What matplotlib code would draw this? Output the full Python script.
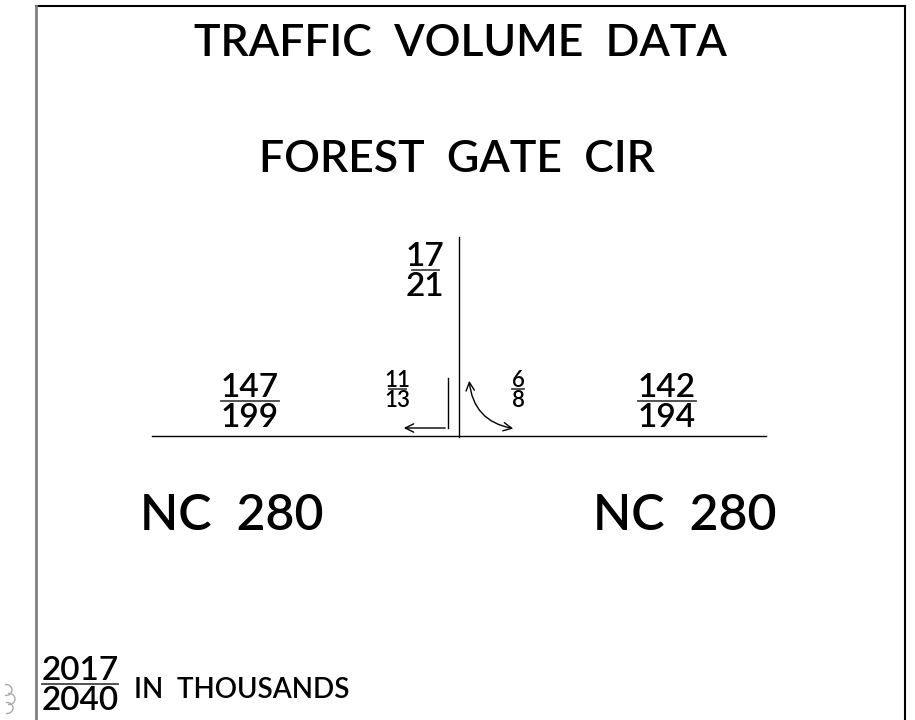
import matplotlib.pyplot as plt
from matplotlib.patches import FancyArrowPatch, Arc

plt.rcParams['font.family'] = ['Lato', 'DejaVu Sans']
plt.rcParams['font.weight'] = 'semibold'

# volumes in thousands: (2017, 2040)
north_leg = (17, 21)
west_leg = (147, 199)
east_leg = (142, 194)
left_turn = (11, 13)
right_turn = (6, 8)
legend_years = ("2017", "2040")

title = "TRAFFIC  VOLUME  DATA"
subtitle = "FOREST  GATE  CIR"
road = "NC  280"

fig = plt.figure(figsize=(9.15, 7.2), dpi=100)
ax = fig.add_axes([0, 0, 1, 1])
ax.set_xlim(0, 915)
ax.set_ylim(720, 0)
ax.axis('off')


def fraction(x, y, top, bottom, size, gap, bar_w):
    ax.text(x, y - gap, str(top), ha='center', va='baseline', fontsize=size)
    ax.plot([x - bar_w / 2, x + bar_w / 2], [y, y], color='#444444', lw=1.3)
    ax.text(x, y + gap * 0.4, str(bottom), ha='center', va='top', fontsize=size)


# frame
ax.plot([36, 905], [6, 6], color='black', lw=1.5)
ax.plot([36, 36], [6, 720], color='#808080', lw=2)
ax.plot([905, 905], [6, 720], color='black', lw=1.5)

ax.text(460, 43, title, ha='center', va='center', fontsize=32)
ax.text(457, 160, subtitle, ha='center', va='center', fontsize=32)

# roads
ax.plot([459, 459], [237, 437], color='black', lw=1)
ax.plot([152, 766], [436, 436], color='black', lw=1)

fraction(425, 270, *north_leg, 24, 4, 27)
fraction(250, 401, *west_leg, 24, 4, 58)
fraction(667, 401, *east_leg, 24, 4, 58)
fraction(397, 389, *left_turn, 16, 2, 17)
fraction(518, 389, *right_turn, 16, 2, 12)

# turning movements
ax.plot([448, 448], [378, 428], color='black', lw=1)
ax.add_patch(FancyArrowPatch((448, 428), (401, 428), arrowstyle='->,head_length=6,head_width=3',
                             color='black', lw=1, mutation_scale=1))
ax.add_patch(FancyArrowPatch((469, 378), (516, 429), connectionstyle='arc3,rad=0.4',
                             arrowstyle='<->,head_length=6,head_width=3', color='black', lw=1,
                             mutation_scale=1))

ax.text(232, 515, road, ha='center', va='center', fontsize=36)
ax.text(685, 515, road, ha='center', va='center', fontsize=36)

fraction(80, 684, *legend_years, 24, 4, 76)
ax.text(134, 690, "IN  THOUSANDS", ha='left', va='center', fontsize=20)

# stray revision cloud at left edge
for cx, cy in [(6, 690), (9, 699), (7, 708)]:
    ax.add_patch(Arc((cx, cy), 12, 11, theta1=-100, theta2=100, color='#aaaaaa', lw=1))

fig.savefig('out.png', dpi=100)
